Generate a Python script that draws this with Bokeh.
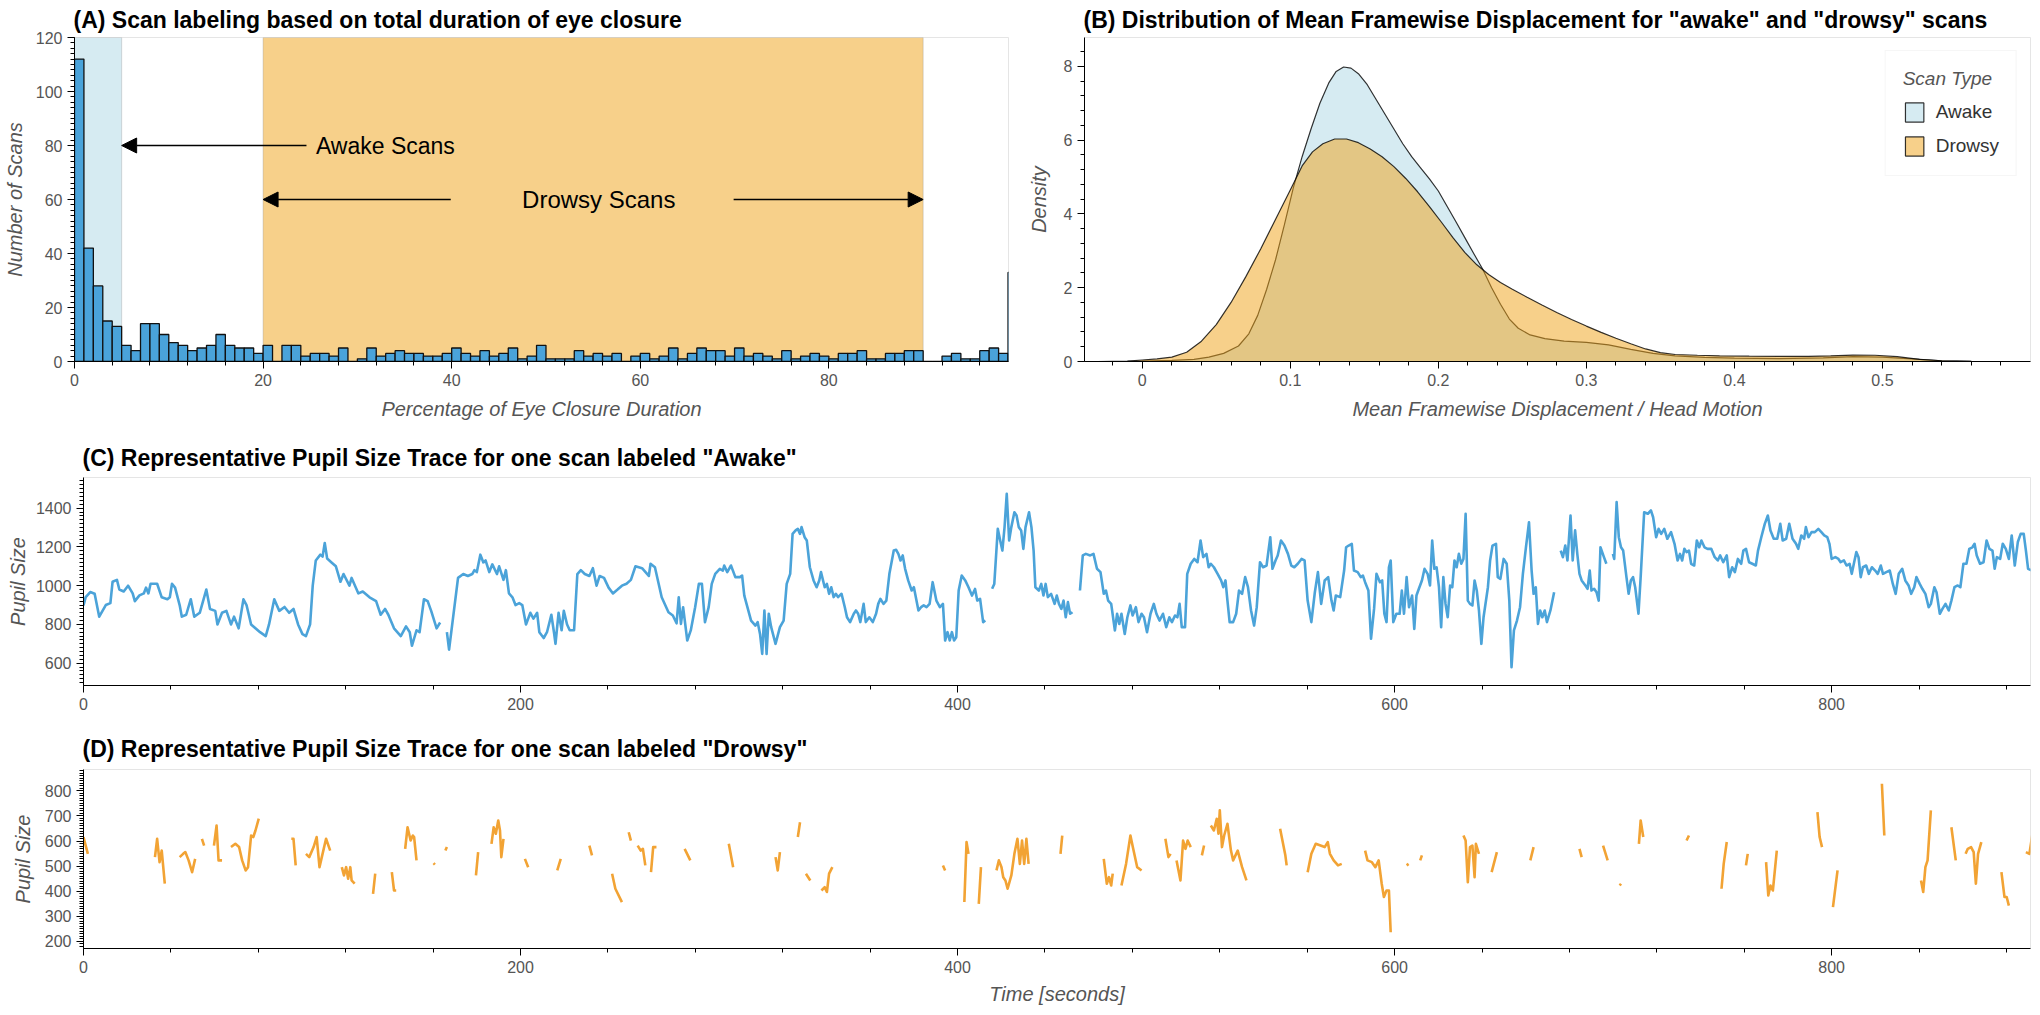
import math
from bokeh.plotting import figure
from bokeh.layouts import column, row
from bokeh.models import (BoxAnnotation, Arrow, NormalHead, Label,
                          SingleIntervalTicker, Range1d)
from bokeh.embed import file_html
from bokeh.resources import INLINE

nan = float("nan")
FONT = "Liberation Sans"

# ---------------- data ----------------
# (A) histogram of % eye-closure duration, 1 % bins starting at 0
hist_counts = [112, 42, 28, 15, 13, 6, 4, 14, 14, 10,
               7, 6, 4, 5, 6, 10, 6, 5, 5, 3,
               6, 0, 6, 6, 2, 3, 3, 2, 5, 0,
               1, 5, 2, 3, 4, 3, 3, 2, 2, 3,
               5, 3, 2, 4, 2, 3, 5, 1, 2, 6,
               1, 1, 1, 4, 2, 3, 2, 3, 0, 2,
               3, 1, 2, 5, 1, 3, 5, 4, 4, 2,
               5, 2, 3, 2, 1, 4, 1, 2, 3, 2,
               1, 3, 3, 4, 1, 1, 3, 3, 4, 4,
               0, 0, 2, 3, 1, 1, 4, 5, 3, 33]
bin_width = 1
awake_limit = 5
drowsy_low = 20
drowsy_high = 90

# (B) KDE of mean framewise displacement
fd_awake = [-0.03, -0.01, 0.0, 0.02, 0.035, 0.045, 0.055, 0.065, 0.072, 0.078,
            0.084, 0.09, 0.096, 0.102, 0.108, 0.114, 0.12, 0.126, 0.131, 0.136,
            0.141, 0.146, 0.152, 0.158, 0.164, 0.17, 0.176, 0.182, 0.188, 0.194,
            0.2, 0.206, 0.212, 0.218, 0.224, 0.23, 0.236, 0.242, 0.248, 0.254,
            0.262, 0.272, 0.285, 0.3, 0.315, 0.33, 0.345, 0.36, 0.38, 0.4,
            0.43, 0.46, 0.48, 0.5, 0.52, 0.54, 0.56, 0.58]
dens_awake = [0, 0.005, 0.01, 0.03, 0.06, 0.12, 0.22, 0.42, 0.75, 1.25,
              1.95, 2.75, 3.7, 4.7, 5.55, 6.3, 7.0, 7.55, 7.86, 7.98,
              7.95, 7.8, 7.5, 7.1, 6.7, 6.3, 5.9, 5.55, 5.25, 4.95,
              4.62, 4.2, 3.78, 3.35, 2.92, 2.5, 2.0, 1.55, 1.15, 0.9,
              0.72, 0.62, 0.55, 0.52, 0.45, 0.33, 0.22, 0.15, 0.11, 0.09,
              0.08, 0.1, 0.13, 0.12, 0.07, 0.02, 0.005, 0]
fd_drowsy = [-0.03, -0.01, 0.0, 0.01, 0.02, 0.03, 0.04, 0.05, 0.06, 0.07,
             0.08, 0.09, 0.1, 0.108, 0.115, 0.122, 0.13, 0.138, 0.146, 0.154,
             0.162, 0.17, 0.178, 0.186, 0.194, 0.202, 0.21, 0.218, 0.226, 0.234,
             0.242, 0.25, 0.26, 0.27, 0.28, 0.29, 0.3, 0.31, 0.32, 0.33,
             0.34, 0.35, 0.36, 0.375, 0.39, 0.41, 0.43, 0.45, 0.465, 0.48,
             0.495, 0.51, 0.525, 0.54, 0.56, 0.58]
dens_drowsy = [0, 0.01, 0.04, 0.07, 0.12, 0.25, 0.55, 1.0, 1.6, 2.3,
               3.05, 3.85, 4.65, 5.3, 5.68, 5.9, 6.03, 6.03, 5.93, 5.76,
               5.55, 5.28, 4.96, 4.6, 4.2, 3.78, 3.35, 2.95, 2.62, 2.36,
               2.14, 1.96, 1.74, 1.53, 1.33, 1.14, 0.96, 0.79, 0.63, 0.48,
               0.34, 0.24, 0.19, 0.17, 0.155, 0.145, 0.14, 0.14, 0.155, 0.175,
               0.17, 0.13, 0.06, 0.02, 0.005, 0]

# (C) pupil size trace, "Awake" scan (nan = missing samples)
awake_time = [0, 1.0, 3.1, 5.1, 7.2, 10.2, 12.3, 13.3, 15.3, 16.4, 18.4, 20.4, 22.5, 23.5, 25.6, 27.6,
              28.6, 29.7, 30.7, 33.7, 35.8, 38.4, 39.5, 40.5, 41.9, 44.0, 45.0, 47.0, 49.1, 50.7,
              53.2, 56.2, 57.9, 60.3, 61.3, 63.4, 65.4, 67.5, 68.9, 71.0, 73.2, 74.6, 76.7, 80.8,
              83.4, 84.9, 87.3, 89.6, 92.0, 94.1, 96.1, 98.2, 100.2, 101.8, 103.7, 104.9, 106.3,
              108.4, 109.4, 110.4, 111.5, 113.5, 115.5, 117.6, 119.0, 121.7, 122.7, 125.8, 127.8,
              130.9, 133.9, 136.0, 138.0, 139.5, 142.1, 145.2, 147.6, 149.3, 150.3, 152.4, 153.8,
              155.8, 157.5, 159.1, 161.6, 163.2, nan,
              166.3, 167.3, 171.4, 173.8, 175.9, 177.9, 178.9, 180.0, 181.6, 183.0, 184.0, 185.7,
              187.1, 189.2, 190.2, 192.2, 193.3, 194.7, 196.3, 197.7, 199.4, 200.8, 202.5, 204.5,
              205.9, 207.6, 208.6, 210.6, 212.1, 214.1, 215.3, 216.0, 217.4, 218.8, 219.8, 221.3,
              222.5, 224.5, 226.0, 227.6, 229.4, 231.5, 233.1, 234.8, 236.2, 238.2, 240.3, 242.3,
              244.4, 246.4, 248.5, 250.5, 252.6, 255.6, 258.7,
              259.5, 261.5, 264.6, 267.7, 269.7, 271.4, 272.4, 273.4, 274.4, 276.3, 277.9, 279.9,
              281.6, 283.0, 284.4, 286.1, 287.5, 289.1, 291.2, 292.6, 293.2, 294.6, 296.3, 298.3,
              300.4, 301.4, 302.4, 305.5, 307.5, 308.5, 309.6, 310.6, 311.6, 312.6, 313.6, 314.7,
              316.7, 318.7, 320.4, 321.8, 323.4, 324.5, 325.9, 326.9, 327.9, 328.6, 330.0, 331.0,
              332.4, 334.1, 335.5, 336.7, 337.5, 339.2, 340.2, 341.2, 342.2, 343.3, 344.3, 345.3,
              346.9, 348.4, 349.4, 350.8, 352.5, 353.5, 354.5, 355.5, 357.0, 358.0, 359.6, 361.2,
              362.7, 363.7, 364.7, 366.1, 367.4, 368.8, 370.8, 371.9, 372.9, 373.9, 374.9, 376.0,
              377.4, 379.0, 380.0, 382.1, 383.3, 384.5, 385.8, 387.2, 388.6, 390.3, 391.9, 393.3,
              394.3, 395.4, 396.4, 397.4, 398.4, 399.4, 400.5, 401.9, 403.5, 405.0, 406.6, 408.0,
              409.0, 410.3, 411.7, 412.7, nan,
              415.8, 416.8, 418.4, 419.5, 420.5, 421.5, 422.5, 423.6, 424.6, 426.0, 427.0, 428.0,
              429.1, 430.1, 431.1, 432.7, 433.8, 434.8, 435.6, 437.2, 438.3, 439.3, 440.3, 441.3,
              442.8, 444.4, 445.4, 446.4, 447.5, 448.5, 449.5, 450.5, 451.5, 452.6, nan,
              456.0, 457.3, 458.7, 460.7, 462.2, 463.8, 465.4, 466.9, 467.9, 468.9, 470.3, 472.0,
              473.0, 474.0, 475.0, 476.5, 477.7, 479.1, 480.1, 481.6, 482.8, 484.2, 485.3, 486.7,
              488.3, 489.8, 491.0, 492.4, 494.0, 495.5, 496.9, 498.1, 499.5, 500.6, 501.6, 502.6,
              504.1, 505.1, 506.7, 508.3, 509.8, 511.2, 512.4, 513.9, 514.9, 515.9, 517.3, 519.0,
              520.6, 521.6, 522.6, 523.5, 524.5, 526.1, 527.5, 528.8, 530.2, 531.6, 532.9, 534.3,
              535.7, 536.9, 538.4, 539.8, 541.4, 543.1, 544.1, 545.5, 546.5, 548.0, 549.6, 551.2,
              552.7, 554.1, 555.7, 557.4, 558.8, 560.2, 561.9, 563.5, 564.9, 566.4, 568.0, 569.6,
              571.1, 572.1, 573.1, 575.1, 576.9, 577.8, 579.0, 580.4, 581.4, 583.1, 584.5, 585.5,
              586.5, 588.0, 589.2, 590.6, 591.7, 593.3, 594.3, 595.3, 596.3, 597.4, 598.2, 599.4,
              600.8, 602.3, 603.3, 604.3, 605.5, 606.6, 608.0, 609.0, 610.0, 611.1, 612.5, 613.7,
              615.1, 616.2, 617.2, 618.2, 619.2, 620.3, 621.3, 622.3, 623.3, 624.3, 625.4, 626.4,
              627.4, 628.4, 629.4, 630.5, 631.5, 632.5, 633.5, 634.5, 635.6, 636.6, 637.6, 638.6,
              639.7, 640.7, 642.7, 643.7, 644.8, 646.4, 647.2, 648.4, 649.9, 651.3, 652.5, 653.5,
              654.6, 656.0, 657.4, 658.7, 660.1, 661.5, 662.7, 663.6, 664.6, 665.6, 666.6, 667.6,
              668.7, 669.7, 671.3, 673.0, nan,
              676.0, 677.0, 678.1, 679.1, 680.5, 681.5, 682.6, 683.6, 684.6, 685.6, 687.3, 688.3,
              689.3, 690.1, 691.3, 692.4, 693.4, 694.2, 695.8, 696.9, nan,
              699.9, 700.5, 701.6, 702.6, 703.6, 704.6, 706.1, 707.1, 708.1, 709.1, 710.1, 711.6,
              712.6, 714.2, 715.9, 717.3, 718.3, 719.7, 720.8, 722.0, 723.4, 724.8, 726.5, 728.1,
              729.5, 730.6, 731.6, 732.6, 733.6, 734.7, 735.7, 737.1, 738.3, 739.4, 740.4, 741.8,
              743.2, 744.9, 746.5, 747.9, 749.0, 750.4, 752.0, 753.1, 754.5, 755.7, 757.1, 758.6,
              759.6, 760.8, 762.2, 763.7, 765.3, 766.3, 767.8, 769.4, 770.8, 772.0, 773.5, 775.1,
              776.5, 777.6, 779.2, 780.6, 782.1, 783.7, 784.7, 786.1, 787.4, 788.2, 789.4, 790.8,
              792.3, 793.9, 795.3, 796.6, 798.0, 799.0, 800.0, 801.7, 803.1, 804.1, 805.6, 806.8,
              808.2, 809.2, 810.3, 811.3, 812.3, 813.3, 814.3, 815.8, 817.0, 818.4, 819.9, 821.1,
              822.5, 823.5, 825.0, 826.6, 828.0, 829.3, 830.7, 832.3, 833.7, 835.2, 836.4, 837.8,
              838.8, 840.3, 841.5, 842.9, 844.4, 845.4, 847.0, 848.0, 849.5, 850.7, 852.1, 853.6,
              854.8, 856.2, 857.7, 858.9, 860.3, 861.7, 863.0, 864.4, 865.4, 866.4, 867.9, 869.5,
              870.9, 872.2, 873.6, 874.6, 875.6, 877.1, 878.3, 879.7, 881.1, 882.4, 883.8, 885.2,
              886.5, 887.9, 888.9, 889.9, 891.6]
awake_pupil = [898, 941, 967, 958, 840, 900, 910, 1020, 1030, 980, 970, 1000, 960, 920, 950, 960,
               990, 960, 1010, 1010, 940, 930, 940, 1010, 990, 900, 840, 850, 930, 840,
               860, 980, 880, 870, 800, 860, 870, 800, 840, 780, 930, 900, 800, 760,
               740, 800, 930, 870, 890, 860, 880, 800, 750, 740, 800, 1000, 1130,
               1160, 1150, 1220, 1140, 1120, 1100, 1020, 1060, 1000, 1040, 960, 970,
               940, 920, 850, 880, 850, 780, 740, 790, 760, 690, 770, 760,
               930, 920, 870, 780, 810, nan,
               760, 670, 1040, 1060, 1050, 1060, 1080, 1070, 1160, 1120, 1130, 1070,
               1110, 1060, 1100, 1030, 1080, 960, 940, 900, 910, 900, 800, 860,
               830, 860, 760, 730, 760, 850, 760, 700, 860, 770, 870, 800,
               770, 770, 1060, 1080, 1060, 1050, 1090, 1000, 1050, 1040, 990, 960,
               980, 1000, 1010, 1030, 1100, 1090, 1050,
               1113, 1095, 940, 863, 846, 806, 940, 803, 889, 717, 769, 889,
               1009, 1009, 812, 889, 1009, 1061, 1087, 1078, 1104, 1070, 1104, 1044,
               1044, 1052, 949, 820, 794, 812, 751, 648, 872, 648, 855, 786,
               700, 786, 820, 1009, 1061, 1267, 1285, 1293, 1267, 1302, 1250, 1233,
               1095, 1027, 992, 1027, 1070, 992, 1009, 958, 992, 941, 958, 941,
               958, 889, 837, 812, 855, 872, 855, 812, 906, 812, 837, 812,
               855, 906, 932, 906, 923, 1061, 1181, 1185, 1164, 1130, 1156, 1087,
               1027, 975, 992, 872, 889, 898, 889, 906, 1018, 923, 889, 906,
               717, 760, 717, 760, 717, 734, 975, 1052, 1027, 992, 949, 983,
               923, 932, 812, 820, nan,
               984, 1009, 1293, 1233, 1181, 1302, 1474, 1233, 1302, 1379, 1362, 1302,
               1285, 1190, 1302, 1379, 1302, 1181, 992, 975, 1009, 949, 1009, 941,
               958, 906, 949, 906, 880, 923, 837, 915, 855, 863, nan,
               975, 1156, 1164, 1156, 1164, 1087, 1070, 958, 975, 923, 906, 769,
               855, 803, 855, 751, 837, 898, 846, 889, 812, 855, 837, 760,
               855, 906, 855, 820, 855, 786, 837, 812, 846, 837, 906, 786,
               786, 1061, 1113, 1138, 1121, 1233, 1147, 1164, 1095, 1113, 1095, 1061,
               1027, 992, 1027, 923, 812, 812, 855, 975, 958, 1044, 992, 872,
               794, 889, 1121, 1095, 1104, 1250, 1087, 1130, 1156, 1233, 1207, 1164,
               1104, 1095, 1113, 1138, 1130, 923, 812, 966, 1070, 906, 1027, 1044,
               923, 872, 949, 941, 1078, 1198, 1207, 1216, 1078, 1070, 1044, 1052,
               1018, 975, 726, 880, 1061, 1018, 1027, 855, 812, 1095, 1130, 812,
               855, 855, 975, 855, 1044, 889, 949, 777, 949, 984, 1027, 1087,
               1061, 1001, 1233, 1087, 1095, 992, 786, 1044, 906, 837, 1001, 992,
               1130, 1095, 1164, 1113, 1138, 1371, 923, 906, 898, 1027, 975, 872,
               700, 837, 992, 1130, 1207, 1216, 1044, 1035, 1138, 1113, 923, 579,
               769, 820, 889, 1061, 1198, 1327, 1078, 958, 992, 803, 872, 837,
               872, 812, 872, 966, nan,
               1181, 1147, 1207, 1130, 1362, 1130, 1285, 1164, 1061, 1027, 1001, 984,
               1078, 975, 984, 966, 923, 1198, 1147, 1113, nan,
               1164, 1138, 1431, 1250, 1198, 1181, 1044, 958, 1027, 1044, 992, 855,
               1044, 1379, 1371, 1388, 1353, 1250, 1293, 1267, 1293, 1242, 1276, 1216,
               1130, 1164, 1130, 1190, 1173, 1181, 1113, 1104, 1233, 1198, 1233, 1198,
               1190, 1190, 1147, 1130, 1156, 1121, 1156, 1044, 1095, 1070, 1138, 1113,
               1181, 1190, 1121, 1113, 1104, 1181, 1250, 1319, 1362, 1285, 1242, 1242,
               1319, 1233, 1242, 1319, 1242, 1216, 1190, 1259, 1242, 1302, 1250, 1276,
               1276, 1293, 1276, 1259, 1250, 1216, 1138, 1147, 1138, 1121, 1130, 1104,
               1113, 1061, 1121, 1173, 1147, 1044, 1095, 1104, 1061, 1095, 1078, 1061,
               1104, 1061, 1070, 1078, 1009, 958, 1061, 1087, 1027, 1001, 958, 992,
               1044, 1009, 984, 958, 889, 906, 992, 966, 855, 880, 906, 872,
               923, 992, 1001, 992, 1113, 1113, 1190, 1198, 1216, 1156, 1113, 1121,
               1233, 1190, 1181, 1087, 1147, 1138, 1216, 1190, 1138, 1259, 1104, 1225,
               1267, 1267, 1181, 1087, 1078]

# (D) pupil size trace, "Drowsy" scan (nan = eyes closed / missing)
drowsy_time = [0, 1.0, 2.0, nan,
               32.7, 33.7, 34.8, 35.8, 37.2, nan,
               44.0, 45.6, 46.6, 48.1, 49.7, 51.1, nan,
               54.2, 55.2, nan,
               59.7, 60.9, 61.8, 63.4, nan,
               67.5, 69.5, 71.2, 72.6, 74.2, 75.3, 76.7, 77.7, 78.7, 80.2, nan,
               95.1, 96.1, 97.1, nan,
               101.8, 103.3, 105.3, 106.7, 108.0, 109.4, 111.0, 112.9, nan,
               118.2, 119.2, 120.2, 121.1, 122.1, 122.7, 124.1, nan,
               132.5, 133.5, nan,
               141.1, 142.1, 143.1, nan,
               147.2, 148.3, 149.7, 150.7, 151.3, 152.4, nan,
               160.2, 160.8, nan,
               165.6, 166.3, nan,
               179.6, 180.6, nan,
               186.7, 187.7, 188.7, 189.8, 190.6, 191.2, 192.2, nan,
               202.0, 203.5, nan,
               216.8, 218.4, nan,
               231.5, 232.7, nan,
               241.9, 243.4, 246.4, nan,
               249.5, 250.5, nan,
               253.6, 255.0, 256.0, 257.1, nan,
               259.7, 260.7, 262.2, nan,
               275.1, 277.7, nan,
               295.3, 297.3, nan,
               316.7, 317.7, 318.7, nan,
               326.9, 327.9, nan,
               330.6, 332.6, nan,
               337.7, 339.2, 340.2, 341.2, 342.7, nan,
               393.3, 394.3, nan,
               403.1, 404.1, 405.0, nan,
               409.7, 410.7, nan,
               417.8, 418.9, 420.1, 420.9, 421.9, 422.9, 424.6, 426.0, 427.4, 428.5, 429.5, 430.5,
               431.5, 432.5, nan,
               447.1, 447.9, nan,
               466.9, 468.3, 469.3, 470.3, 471.0, nan,
               475.0, 477.1, 479.1, 480.2, 482.2, 484.2, nan,
               495.1, 496.5, 497.5, nan,
               500.2, 502.0, 503.2, 504.3, 505.3, 506.7, nan,
               511.8, 512.8, nan,
               515.9, 517.3, 518.6, 519.4, 520.0, 521.0, 522.0, 523.5, 525.1, 526.1, 528.2, 530.2,
               532.2, nan,
               547.6, 550.0, 550.6, nan,
               560.2, 561.9, 563.9, 568.0, 569.4, 570.4, 572.1, 574.1, 575.8, nan,
               586.5, 587.6, 589.6, 591.2, 592.7, 594.1, 595.1, 596.3, 597.4, 598.2, nan,
               605.5, 606.4, nan,
               611.7, 612.5, nan,
               631.5, 632.5, 633.5, 634.5, 635.6, 636.6, 637.2, 638.6, nan,
               644.4, 646.8, nan,
               662.1, 663.6, nan,
               684.6, 685.6, nan,
               695.4, 697.5, nan,
               703.0, 703.6, nan,
               711.8, 712.6, 713.8, nan,
               733.6, 734.7, nan,
               749.6, 750.6, 752.0, nan,
               760.8, 761.6, nan,
               770.0, 771.0, 772.0, 773.1, 774.9, nan,
               793.5, 794.5, 795.6, nan,
               800.6, 802.7, nan,
               823.0, 824.1, nan,
               840.9, 841.9, 842.9, 843.9, 845.4, nan,
               854.8, 856.8, nan,
               861.3, 862.3, 863.8, 865.0, 866.0, 867.0, 868.5, nan,
               877.7, 879.1, 880.1, 881.1, nan,
               888.9, 890.5, 892.0]
drowsy_pupil = [616, 582, 549, nan,
                536, 609, 516, 562, 430, nan,
                536, 549, 556, 523, 476, 529, nan,
                609, 582, nan,
                582, 662, 523, 523, nan,
                576, 589, 576, 523, 483, 496, 622, 616, 642, 689, nan,
                609, 609, 503, nan,
                549, 536, 576, 616, 496, 549, 609, 562, nan,
                496, 463, 496, 450, 496, 443, 430, nan,
                390, 470, nan,
                476, 403, 403, nan,
                569, 655, 602, 622, 616, 523, nan,
                512, 506, nan,
                562, 576, nan,
                463, 556, nan,
                589, 655, 629, 682, 642, 536, 609, nan,
                529, 496, nan,
                483, 529, nan,
                582, 543, nan,
                470, 410, 357, nan,
                635, 602, nan,
                582, 562, 569, 503, nan,
                476, 576, 576, nan,
                569, 523, nan,
                589, 496, nan,
                536, 483, 556, nan,
                616, 675, nan,
                470, 443, nan,
                403, 416, 397, 470, 496, nan,
                503, 483, nan,
                357, 596, 549, nan,
                350, 496, nan,
                483, 523, 496, 456, 443, 410, 463, 549, 609, 509, 602, 509,
                609, 509, nan,
                549, 622, nan,
                529, 430, 456, 423, 470, nan,
                423, 509, 622, 576, 496, 483, nan,
                609, 536, 549, nan,
                523, 443, 602, 569, 602, 576, nan,
                543, 582, nan,
                662, 642, 689, 629, 722, 576, 622, 669, 562, 523, 562, 496,
                443, nan,
                649, 543, 503, nan,
                476, 549, 589, 576, 596, 549, 523, 503, 509, nan,
                562, 523, 516, 496, 523, 430, 377, 403, 403, 237, nan,
                503, 509, nan,
                523, 543, nan,
                622, 602, 436, 576, 582, 456, 589, 549, nan,
                476, 556, nan,
                523, 576, nan,
                569, 536, nan,
                582, 523, nan,
                423, 430, nan,
                589, 682, 616, nan,
                602, 622, nan,
                410, 509, 596, nan,
                503, 549, nan,
                516, 383, 423, 403, 562, nan,
                715, 616, 576, nan,
                337, 483, nan,
                828, 622, nan,
                443, 397, 496, 523, 722, nan,
                655, 523, nan,
                549, 569, 576, 556, 430, 549, 596, nan,
                476, 377, 377, 343, nan,
                556, 549, 635]

# ---------------- styling helpers ----------------
AWAKE_FILL = "#add8e6"
DROWSY_FILL = "#efa216"
BAR_BLUE = "#4aa3da"
LINE_BLUE = "#4ba3d9"
LINE_ORANGE = "#f2a334"
TXT_GRAY = "#555555"


def style(p, xlabel=None, ylabel=None, title_standoff=6, y_minor=10, x_minor=5,
          x_interval=None, y_interval=None, ylab_standoff=6, xlab_standoff=10):
    p.xgrid.visible = False
    p.ygrid.visible = False
    p.outline_line_color = "#e5e5e5"
    p.title.text_font = FONT
    p.title.text_font_size = "23px"
    p.title.text_font_style = "bold"
    p.title.text_color = "black"
    p.title.standoff = title_standoff
    p.title.offset = -1
    if x_interval:
        p.xaxis.ticker = SingleIntervalTicker(interval=x_interval, num_minor_ticks=x_minor)
    if y_interval:
        p.yaxis.ticker = SingleIntervalTicker(interval=y_interval, num_minor_ticks=y_minor)
    for ax in list(p.xaxis) + list(p.yaxis):
        ax.major_label_text_font = FONT
        ax.major_label_text_font_size = "16px"
        ax.major_label_text_color = TXT_GRAY
        ax.axis_label_text_font = FONT
        ax.axis_label_text_font_size = "20px"
        ax.axis_label_text_font_style = "italic"
        ax.axis_label_text_color = TXT_GRAY
        ax.axis_line_color = "black"
        ax.major_tick_line_color = "black"
        ax.minor_tick_line_color = "black"
        ax.major_tick_out = 7
        ax.major_tick_in = 0
        ax.minor_tick_out = 4
        ax.minor_tick_in = 0
    if xlabel:
        p.xaxis.axis_label = xlabel
        p.xaxis.axis_label_standoff = xlab_standoff
    if ylabel:
        p.yaxis.axis_label = ylabel
        p.yaxis.axis_label_standoff = ylab_standoff


common = dict(output_backend="svg", toolbar_location=None, tools="")

# ---------------- (A) ----------------
pA = figure(width=1024, height=424, min_border_left=73, min_border_right=16,
            min_border_top=36, min_border_bottom=63,
            title="(A) Scan labeling based on total duration of eye closure",
            x_range=Range1d(0, 99.05), y_range=Range1d(0, 120), **common)
style(pA, "Percentage of Eye Closure Duration", "Number of Scans", title_standoff=9,
      x_interval=20, y_interval=20, y_minor=10, ylab_standoff=7, xlab_standoff=9)

pA.add_layout(BoxAnnotation(left=0, right=awake_limit, fill_color=AWAKE_FILL, fill_alpha=0.5,
                            line_color="#888888", line_width=1, level="underlay"))
pA.add_layout(BoxAnnotation(left=drowsy_low, right=drowsy_high, fill_color=DROWSY_FILL,
                            fill_alpha=0.5, line_color="#888888", line_width=1, level="underlay"))

bin_left = [i * bin_width for i in range(len(hist_counts))]
bin_right = [b + bin_width for b in bin_left]
pA.quad(left=bin_left, right=bin_right, bottom=0, top=hist_counts,
        fill_color=BAR_BLUE, line_color="#111111", line_width=1.3)

head = dict(size=15, fill_color="black", line_color="black")
pA.add_layout(Arrow(end=NormalHead(**head), x_start=24.6, y_start=80, x_end=awake_limit,
                    y_end=80, line_width=1.5))
pA.add_layout(Arrow(end=NormalHead(**head), x_start=39.9, y_start=60, x_end=drowsy_low,
                    y_end=60, line_width=1.5))
pA.add_layout(Arrow(end=NormalHead(**head), x_start=69.9, y_start=60, x_end=drowsy_high,
                    y_end=60, line_width=1.5))
pA.add_layout(Label(x=25.6, y=80, text="Awake Scans", text_baseline="middle",
                    text_align="left", text_font=FONT, text_font_size="23px",
                    text_color="black"))
pA.add_layout(Label(x=55.6, y=60, text="Drowsy Scans", text_baseline="middle",
                    text_align="center", text_font=FONT, text_font_size="24px",
                    text_color="black"))

# ---------------- (B) ----------------
pB = figure(width=1008, height=424, min_border_left=56, min_border_right=2,
            min_border_top=36, min_border_bottom=63,
            title='(B) Distribution of Mean Framewise Displacement for "awake" and "drowsy" scans',
            x_range=Range1d(-0.039, 0.6), y_range=Range1d(0, 8.78), **common)
style(pB, "Mean Framewise Displacement / Head Motion", "Density", title_standoff=9,
      x_interval=0.1, y_interval=2, y_minor=5, ylab_standoff=11, xlab_standoff=9)

pB.patch(fd_awake, dens_awake, fill_color=AWAKE_FILL, fill_alpha=0.5,
         line_color="black", line_alpha=0.8, line_width=1.2, legend_label="Awake")
pB.patch(fd_drowsy, dens_drowsy, fill_color=DROWSY_FILL, fill_alpha=0.5,
         line_color="black", line_alpha=0.8, line_width=1.2, legend_label="Drowsy")
lg = pB.legend[0]
lg.title = "Scan Type"
lg.title_text_font = FONT
lg.title_text_font_size = "19px"
lg.title_text_font_style = "italic"
lg.title_text_color = TXT_GRAY
lg.title_standoff = 10
lg.label_text_font = FONT
lg.label_text_font_size = "19px"
lg.label_text_color = "#333333"
lg.location = "top_right"
lg.margin = 13
lg.padding = 17
lg.spacing = 10
lg.glyph_width = 23
lg.glyph_height = 24
lg.label_standoff = 10
lg.label_width = 63
lg.border_line_color = "#eeeeee"
lg.background_fill_color = "white"

# ---------------- (C) ----------------
pC = figure(width=2032, height=301, min_border_left=83, min_border_right=2,
            min_border_top=53, min_border_bottom=40,
            title='(C) Representative Pupil Size Trace for one scan labeled "Awake"',
            x_range=Range1d(0, 891), y_range=Range1d(485, 1558), **common)
style(pC, None, "Pupil Size", title_standoff=13, x_interval=200, y_interval=200,
      y_minor=10, ylab_standoff=4)
pC.line(awake_time, awake_pupil, line_color=LINE_BLUE, line_width=2.6, line_join="round")

# ---------------- (D) ----------------
pD = figure(width=2032, height=284, min_border_left=83, min_border_right=2,
            min_border_top=44, min_border_bottom=61,
            title='(D) Representative Pupil Size Trace for one scan labeled "Drowsy"',
            x_range=pC.x_range, y_range=Range1d(172, 885), **common)
style(pD, "Time [seconds]", "Pupil Size", title_standoff=15, x_interval=200,
      y_interval=100, y_minor=10, ylab_standoff=8, xlab_standoff=7)
pD.line(drowsy_time, drowsy_pupil, line_color=LINE_ORANGE, line_width=2.6, line_join="round")

layout = column(row(pA, pB), pC, pD)
with open("out.html", "w") as f:
    f.write(file_html(layout, INLINE))
